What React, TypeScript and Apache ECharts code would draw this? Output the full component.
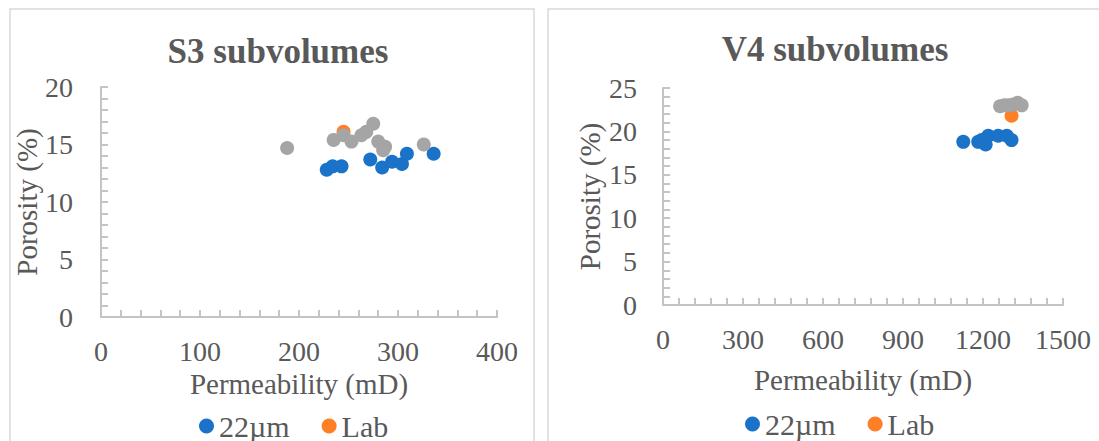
import React, { useEffect, useRef } from "react";
import * as echarts from "echarts";

const FONT = "'Liberation Serif', 'Times New Roman', serif";
const TXT = "#595959";
const AX = "#c4c4c4";

const legendNames = ["22µm", "Lab"];

// S3 subvolumes
const s3BlueX = [228, 234, 243, 272, 284, 294, 304, 309, 336];
const s3BlueY = [12.8, 13.1, 13.1, 13.7, 13.0, 13.5, 13.3, 14.2, 14.2];
const s3LabX = [245];
const s3LabY = [16.1];
const s3GrayX = [188, 235, 245, 253, 263, 268, 275, 280, 287, 285, 326];
const s3GrayY = [14.7, 15.4, 15.8, 15.25, 15.8, 16.1, 16.8, 15.25, 14.8, 14.5, 15.0];

// V4 subvolumes
const v4BlueX = [1126, 1182, 1195, 1210, 1220, 1257, 1289, 1307];
const v4BlueY = [18.8, 18.8, 19.0, 18.5, 19.5, 19.5, 19.5, 19.0];
const v4LabX = [1307];
const v4LabY = [21.8];
const v4GrayX = [1264, 1280, 1295, 1313, 1330, 1345];
const v4GrayY = [22.9, 23.0, 23.0, 23.1, 23.3, 23.0];

const COLORS = ["#1a73c8", "#ff7f27", "#a5a5a5"];

const zip = (xs: number[], ys: number[]) => xs.map((x, i) => [x, ys[i]]);

function xAxis(gridIndex: number, max: number, interval: number, nameGap: number) {
  return {
    type: "value",
    gridIndex,
    min: 0,
    max,
    interval,
    name: "Permeability (mD)",
    nameLocation: "middle",
    nameGap,
    nameTextStyle: { color: TXT, fontFamily: FONT, fontSize: 29 },
    axisLine: { show: true, lineStyle: { color: AX, width: 2 } },
    axisTick: { show: true, inside: true, length: 7, lineStyle: { color: AX, width: 2 } },
    minorTick: { show: true, splitNumber: 5, length: 7, lineStyle: { color: AX, width: 2 } },
    splitLine: { show: false },
    axisLabel: {
      color: TXT,
      fontFamily: FONT,
      fontSize: 28,
      margin: 20,
      formatter: (v: number) => String(v),
    },
  };
}

function yAxis(gridIndex: number, max: number, nameGap: number, margin: number) {
  return {
    type: "value",
    gridIndex,
    min: 0,
    max,
    interval: 5,
    name: "Porosity (%)",
    nameLocation: "middle",
    nameRotate: 90,
    nameGap,
    nameTextStyle: { color: TXT, fontFamily: FONT, fontSize: 29 },
    axisLine: { show: true, lineStyle: { color: AX, width: 2 } },
    axisTick: { show: true, inside: true, length: 7, lineStyle: { color: AX, width: 2 } },
    minorTick: { show: true, splitNumber: 5, length: 7, lineStyle: { color: AX, width: 2 } },
    splitLine: { show: false },
    axisLabel: { color: TXT, fontFamily: FONT, fontSize: 28, margin },
  };
}

function series(name: string, idx: number, data: number[][], color: string) {
  return {
    type: "scatter",
    name,
    xAxisIndex: idx,
    yAxisIndex: idx,
    data,
    symbol: "circle",
    symbolSize: 14,
    itemStyle: { color, opacity: 1 },
  };
}

const legendBase = {
  data: legendNames,
  icon: "circle",
  itemWidth: 15,
  itemHeight: 15,
  itemGap: 32,
  textStyle: { color: TXT, fontFamily: FONT, fontSize: 30 },
};

export default function App() {
  const ref = useRef<HTMLDivElement>(null);
  useEffect(() => {
    if (!ref.current) return;
    const chart = echarts.init(ref.current, null, { renderer: "svg" });
    chart.setOption({
      animation: false,
      backgroundColor: "#ffffff",
      title: [
        {
          text: "S3 subvolumes",
          left: 273,
          top: 29,
          textAlign: "center",
          textStyle: { color: TXT, fontFamily: FONT, fontSize: 35, fontWeight: "bold" },
        },
        {
          text: "V4 subvolumes",
          left: 830,
          top: 27,
          textAlign: "center",
          textStyle: { color: TXT, fontFamily: FONT, fontSize: 35, fontWeight: "bold" },
        },
      ],
      legend: [
        { ...legendBase, left: 194, top: 406 },
        { ...legendBase, left: 740, top: 404 },
      ],
      graphic: [
        { type: "rect", shape: { x: 10, y: 9, width: 524, height: 460 }, style: { fill: "none", stroke: "#d9d9d9", lineWidth: 1.5 } },
        { type: "rect", shape: { x: 548, y: 9, width: 600, height: 460 }, style: { fill: "none", stroke: "#d9d9d9", lineWidth: 1.5 } },
      ],
      grid: [
        { left: 101, top: 87, width: 396, height: 230 },
        { left: 663, top: 88, width: 400, height: 217 },
      ],
      xAxis: [xAxis(0, 400, 100, 52), xAxis(1, 1500, 300, 60)],
      yAxis: [yAxis(0, 20, 55, 28), yAxis(1, 25, 59, 26)],
      series: [
        series("22µm", 0, zip(s3BlueX, s3BlueY), COLORS[0]),
        series("Lab", 0, zip(s3LabX, s3LabY), COLORS[1]),
        series("other", 0, zip(s3GrayX, s3GrayY), COLORS[2]),
        series("22µm", 1, zip(v4BlueX, v4BlueY), COLORS[0]),
        series("Lab", 1, zip(v4LabX, v4LabY), COLORS[1]),
        series("other", 1, zip(v4GrayX, v4GrayY), COLORS[2]),
      ],
    });
    return () => chart.dispose();
  }, []);
  return (
    <div
      ref={ref}
      style={{ position: "fixed", left: 0, top: 0, width: 1099, height: 441 }}
    />
  );
}
